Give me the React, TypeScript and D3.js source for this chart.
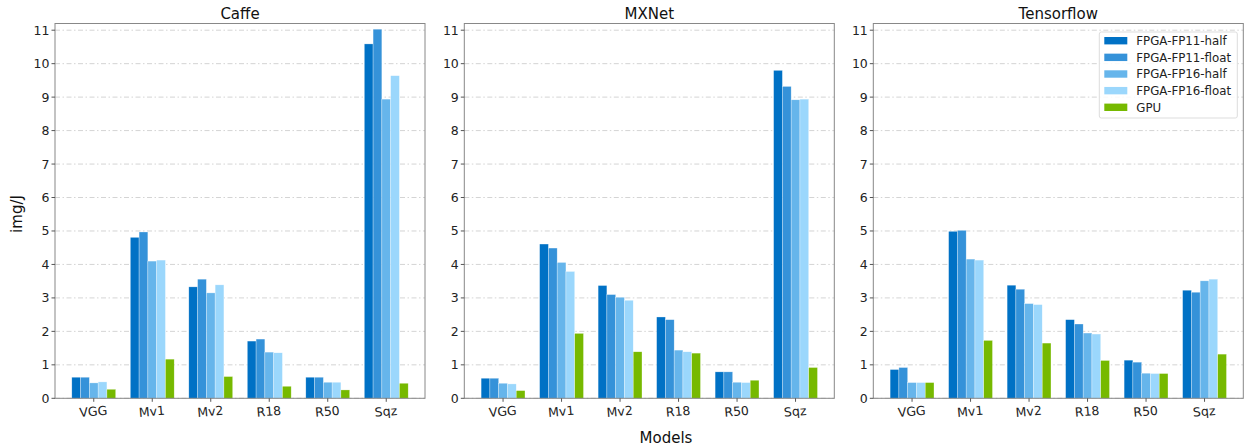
import React from 'react';
import * as d3 from 'd3';

const models = ['VGG', 'Mv1', 'Mv2', 'R18', 'R50', 'Sqz'];
const seriesNames = ['FPGA-FP11-half', 'FPGA-FP11-float', 'FPGA-FP16-half', 'FPGA-FP16-float', 'GPU'];
const seriesColors = ['#0071c5', '#3592d9', '#66b5eb', '#9bd7fc', '#76b900'];
const frameworks = ['Caffe', 'MXNet', 'Tensorflow'];
const yTicks = [0, 1, 2, 3, 4, 5, 6, 7, 8, 9, 10, 11];

// values per framework: one row per series, one column per model
const caffe = [
  [0.63, 4.81, 3.33, 1.71, 0.63, 10.59],
  [0.63, 4.97, 3.56, 1.77, 0.63, 11.03],
  [0.46, 4.10, 3.15, 1.38, 0.48, 8.94],
  [0.49, 4.13, 3.39, 1.36, 0.48, 9.64],
  [0.27, 1.17, 0.65, 0.36, 0.25, 0.45],
];
const mxnet = [
  [0.60, 4.61, 3.37, 2.43, 0.79, 9.80],
  [0.60, 4.49, 3.10, 2.35, 0.79, 9.32],
  [0.45, 4.06, 3.02, 1.44, 0.48, 8.92],
  [0.43, 3.79, 2.93, 1.39, 0.47, 8.94],
  [0.23, 1.94, 1.39, 1.35, 0.54, 0.92],
];
const tensorflow = [
  [0.86, 4.99, 3.38, 2.35, 1.14, 3.23],
  [0.92, 5.02, 3.26, 2.22, 1.08, 3.17],
  [0.47, 4.16, 2.83, 1.95, 0.75, 3.51],
  [0.47, 4.13, 2.80, 1.92, 0.74, 3.56],
  [0.47, 1.73, 1.65, 1.13, 0.74, 1.32],
];
const panelData = [caffe, mxnet, tensorflow];

const W = 1244;
const H = 447;
const panelLefts = [55, 464.3, 873.3];
const panelWidth = 370;
const top = 23.5;
const bottom = 398.3;
const font = 'DejaVu Sans, sans-serif';
const barW = 0.15;

function Panel({ idx }: { idx: number }) {
  const left = panelLefts[idx];
  const data = panelData[idx];
  const x = d3.scaleLinear().domain([-0.6625, 5.6625]).range([0, panelWidth]);
  const y = d3.scaleLinear().domain([0, 11.2]).range([bottom - top, 0]);
  const offset = d3.scaleLinear().domain([0, seriesNames.length - 1]).range([-2 * barW, 2 * barW]);
  const innerH = bottom - top;

  return (
    <g transform={`translate(${left},${top})`}>
      {/* grid */}
      {yTicks.map(t => (
        <line key={t} x1={0} x2={panelWidth} y1={y(t)} y2={y(t)}
          stroke="#cfcfcf" strokeWidth={0.9} strokeDasharray="5,2.5,1.5,2.5" />
      ))}
      {/* bars */}
      {data.map((row, s) => row.map((v, m) => (
        <rect key={`${s}-${m}`}
          x={x(m + offset(s) - barW / 2)}
          y={y(v)}
          width={x(barW) - x(0)}
          height={y(0) - y(v)}
          fill={seriesColors[s]}
          stroke="#ffffff" strokeWidth={0.5} strokeOpacity={0.6} />
      )))}
      {/* frame */}
      <rect x={0} y={0} width={panelWidth} height={innerH} fill="none" stroke="#888" strokeWidth={1} />
      {/* y axis */}
      {yTicks.map(t => (
        <g key={t}>
          <line x1={-3.5} x2={0} y1={y(t)} y2={y(t)} stroke="#555" />
          <text x={-5.5} y={y(t)} dy="0.36em" textAnchor="end" fontSize={12.5} fontFamily={font} fill="#222">{t}</text>
        </g>
      ))}
      {/* x axis */}
      {models.map((m, i) => (
        <g key={m}>
          <line x1={x(i)} x2={x(i)} y1={innerH} y2={innerH + 3.5} stroke="#555" />
          <text transform={`translate(${x(i)},${innerH + 17.5}) rotate(-5)`} textAnchor="middle"
            fontSize={12.5} fontFamily={font} fill="#222">{m}</text>
        </g>
      ))}
      <text x={panelWidth / 2} y={-5} textAnchor="middle" fontSize={15} fontFamily={font} fill="#111">{frameworks[idx]}</text>
    </g>
  );
}

function Legend() {
  const lx = 1099.3;
  const ly = 32;
  return (
    <g>
      <rect x={lx} y={ly} width={138} height={86} rx={2} fill="#fff" fillOpacity={0.85} stroke="#ddd" />
      {seriesNames.map((n, i) => (
        <g key={n} transform={`translate(${lx + 5},${ly + 8.7 + i * 16.65})`}>
          <rect x={0} y={-3.7} width={23} height={7.4} fill={seriesColors[i]} />
          <text x={32} y={0} dy="0.36em" fontSize={11.8} fontFamily={font} fill="#222">{n}</text>
        </g>
      ))}
    </g>
  );
}

export default function App() {
  return (
    <svg width={W} height={H} style={{ position: 'absolute', left: 0, top: 0, background: '#fff' }}>
      {frameworks.map((f, i) => <Panel key={f} idx={i} />)}
      <Legend />
      <text transform="translate(22,214) rotate(-90)" textAnchor="middle" fontSize={15} fontFamily={font} fill="#111">img/J</text>
      <text x={666} y={443} textAnchor="middle" fontSize={15} fontFamily={font} fill="#111">Models</text>
    </svg>
  );
}
